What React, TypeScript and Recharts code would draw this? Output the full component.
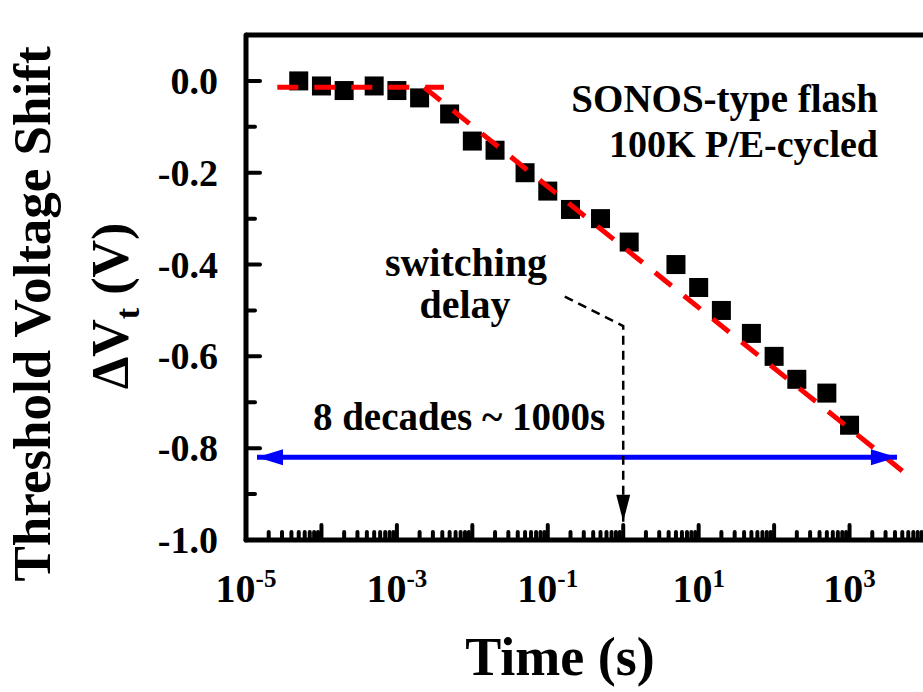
import React from "react";
import {
  ComposedChart,
  Line,
  Scatter,
  XAxis,
  YAxis,
  ReferenceLine,
} from "recharts";

// measured Vt shift after P/E cycling
const times = [
  5e-5, 1e-4, 2e-4, 5e-4, 1e-3, 2e-3, 5e-3, 1e-2, 2e-2, 5e-2, 0.1, 0.2, 0.5,
  1.2, 5, 10, 20, 50, 100, 200, 500, 1000,
];
const shifts = [
  0.0, -0.011, -0.021, -0.011, -0.021, -0.037, -0.072, -0.131, -0.151, -0.2,
  -0.24, -0.28, -0.3, -0.351, -0.4, -0.45, -0.5, -0.55, -0.6, -0.65, -0.68,
  -0.75,
];

// red dashed fit: flat part, then log-linear part
const flatFit = [
  { t: 2.6e-5, v: -0.014 },
  { t: 4.2e-3, v: -0.014 },
];
const slopeFit = [
  { t: 2.3e-3, v: -0.014 },
  { t: 5500, v: -0.855 },
];

// annotations
const spanArrow = [
  { t: 1.4e-5, v: -0.82 },
  { t: 4250, v: -0.82 },
];
const delayArrow = [
  { t: 0.168, v: -0.47 },
  { t: 1.0, v: -0.534 },
  { t: 1.0, v: -0.96 },
];

const decades = [-5, -4, -3, -2, -1, 0, 1, 2, 3, 4];
const labeledExp = [-5, -3, -1, 1, 3];
const minorSteps = [2, 3, 4, 5, 6, 7, 8, 9];
const yTicks = [0, -0.1, -0.2, -0.3, -0.4, -0.5, -0.6, -0.7, -0.8, -0.9, -1.0];

const xTicks: number[] = [];
decades.forEach((e) => {
  xTicks.push(Math.pow(10, e));
  if (e < 4) minorSteps.forEach((m) => xTicks.push(m * Math.pow(10, e)));
});

const points = times.map((t, i) => ({ t, v: shifts[i] }));

const FONT = "'Liberation Serif', 'Times New Roman', serif";

const XTick = (props: any) => {
  const { x, y, payload } = props;
  const lg = Math.log10(payload.value);
  const exp = Math.round(lg);
  const major = Math.abs(lg - exp) < 1e-6;
  const len = major ? 15 : 8;
  return (
    <g>
      <line x1={x} y1={y} x2={x} y2={y - len} stroke="#000" strokeWidth={4} strokeLinecap="round" />
      {major && labeledExp.includes(exp) && (
        <text x={x} y={602} textAnchor="middle" fontFamily={FONT} fontWeight="bold" fontSize={40} fill="#000">
          <tspan>10</tspan>
          <tspan dy={-15} fontSize={25}>{String(exp)}</tspan>
        </text>
      )}
    </g>
  );
};

const YTick = (props: any) => {
  const { x, y, payload } = props;
  const tenth = Math.round(payload.value * 10);
  const major = tenth % 2 === 0;
  return (
    <g>
      <line x1={x} y1={y} x2={x + (major ? 14 : 9)} y2={y} stroke="#000" strokeWidth={4} strokeLinecap="round" />
      {major && (
        <text x={218} y={y + 13} textAnchor="end" fontFamily={FONT} fontWeight="bold" fontSize={38} fill="#000">
          {(tenth / 10).toFixed(1)}
        </text>
      )}
    </g>
  );
};

const Square = (props: any) => {
  const { cx, cy } = props;
  return <rect x={cx - 9.5} y={cy - 9.5} width={19} height={19} fill="#000" />;
};

const spanHead = (props: any) => {
  const { cx, cy, index } = props;
  const d = index === 0 ? 1 : -1;
  return (
    <path
      key={`s-${index}`}
      d={`M${cx},${cy} L${cx + d * 26},${cy - 8} L${cx + d * 26},${cy + 8} Z`}
      fill="#0000ff"
    />
  );
};

const delayHead = (props: any) => {
  const { cx, cy, index } = props;
  if (index !== delayArrow.length - 1) return <g key={`d-${index}`} />;
  return (
    <path
      key={`d-${index}`}
      d={`M${cx},${cy} L${cx - 7},${cy - 27} L${cx + 7},${cy - 27} Z`}
      fill="#000"
    />
  );
};

const txt = { fontFamily: FONT, fontWeight: "bold" as const, fill: "#000" };

export default function App() {
  return (
    <div
      style={{
        position: "fixed",
        left: 0,
        top: 0,
        width: 923,
        height: 692,
        overflow: "hidden",
        background: "#fff",
      }}
    >
      <ComposedChart width={1000} height={692} margin={{ top: 35, right: 75, bottom: 0, left: 0 }}>
        <XAxis
          dataKey="t"
          type="number"
          scale="log"
          domain={[1e-5, 1e4]}
          ticks={xTicks}
          interval={0}
          height={152}
          tickSize={0}
          tickMargin={0}
          tick={<XTick />}
          axisLine={{ stroke: "#000", strokeWidth: 5, strokeLinecap: "round" }}
          allowDataOverflow
        />
        <YAxis
          type="number"
          domain={[-1, 0.1]}
          ticks={yTicks}
          interval={0}
          width={246}
          tickSize={0}
          tickMargin={0}
          tick={<YTick />}
          axisLine={{ stroke: "#000", strokeWidth: 5, strokeLinecap: "round" }}
          allowDataOverflow
        />
        <ReferenceLine y={0.1} stroke="#000" strokeWidth={5} ifOverflow="visible" />

        <Line data={spanArrow} dataKey="v" stroke="#0000ff" strokeWidth={5} dot={spanHead} activeDot={false} isAnimationActive={false} zIndex={350} />
        <Line data={delayArrow} dataKey="v" stroke="#000" strokeWidth={2.5} strokeDasharray="9 6" dot={delayHead} activeDot={false} isAnimationActive={false} zIndex={360} />
        <Scatter data={points} dataKey="v" shape={<Square />} isAnimationActive={false} zIndex={300} />
        <Line data={flatFit} dataKey="v" stroke="#ff0000" strokeWidth={5} strokeDasharray="21 16" dot={false} activeDot={false} isAnimationActive={false} zIndex={400} />
        <Line data={slopeFit} dataKey="v" stroke="#ff0000" strokeWidth={5} strokeDasharray="21 16" dot={false} activeDot={false} isAnimationActive={false} zIndex={400} />

        <text {...txt} x={878} y={112} fontSize={39} textAnchor="end">SONOS-type flash</text>
        <text {...txt} x={878} y={157} fontSize={38} textAnchor="end">100K P/E-cycled</text>
        <text {...txt} x={466} y={276} fontSize={40} textAnchor="middle">switching</text>
        <text {...txt} x={465} y={318} fontSize={40} textAnchor="middle">delay</text>
        <text {...txt} x={459} y={430} fontSize={39} textAnchor="middle">8 decades ~ 1000s</text>
        <text {...txt} x={560} y={675} fontSize={54} textAnchor="middle">Time (s)</text>
        <text {...txt} fontSize={53} textAnchor="middle" transform="translate(50,314) rotate(-90)">
          Threshold Voltage Shift
        </text>
        <text {...txt} fontSize={52} textAnchor="middle" transform="translate(128,306) rotate(-90)">
          <tspan>ΔV</tspan>
          <tspan dy={11} fontSize={34}>t</tspan>
          <tspan dy={-11}> (V)</tspan>
        </text>
      </ComposedChart>
    </div>
  );
}
